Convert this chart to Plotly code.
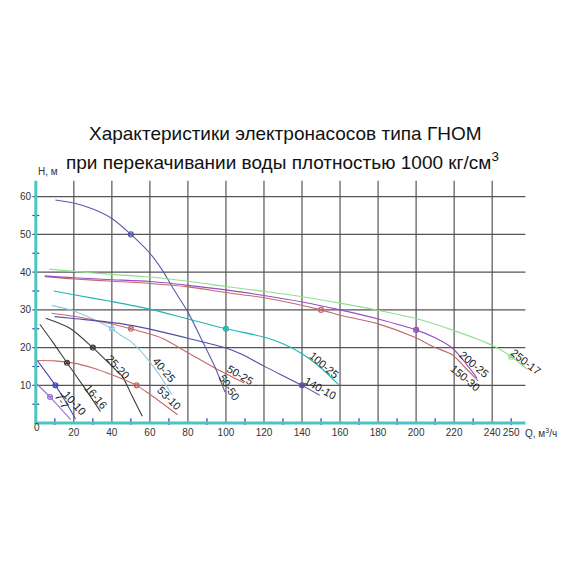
import plotly.graph_objects as go

# pump curves Q (m3/h) -> H (m)
pumps = ["7-7", "10-10", "16-16", "25-20", "40-25", "53-10", "50-25",
         "50-50", "100-25", "140-10", "150-30", "200-25", "250-17"]

q_7_7 = [0.7, 7.5, 18.4]
h_7_7 = [10.3, 6.9, 0.9]
q_10_10 = [0.4, 10.3, 15.1, 20.9]
h_10_10 = [16.8, 10.0, 6.2, 1.1]
q_16_16 = [2.1, 9, 16.4, 25, 34.0]
h_16_16 = [26.2, 21.4, 16.0, 9.8, 3.1]
q_25_20 = [5.2, 17.7, 30.0, 42, 45.5, 50.7, 56]
h_25_20 = [27.8, 25.2, 20.0, 14.1, 12.4, 7.1, 1.8]
q_40_25 = [8.4, 20, 30, 40, 45.5, 50, 56, 64, 71.6]
h_40_25 = [31.2, 29.7, 27.6, 25.0, 23.0, 21.6, 18.6, 13.5, 7.5]
q_53_10 = [0.4, 10, 20, 30, 40, 53, 60.3, 74.6]
h_53_10 = [16.6, 16.5, 15.9, 14.6, 12.8, 10.0, 7.5, 2.2]
q_50_25 = [8.2, 20, 35, 50, 66.4, 80.2, 94.1, 109.7]
h_50_25 = [29.1, 28.3, 26.8, 25.0, 22.5, 18.6, 14.6, 10.6]
q_50_50 = [10.3, 20, 30, 40, 50, 60, 67.2, 71.6, 80, 88.1, 94.1, 99.5]
h_50_50 = [59.1, 58.3, 56.7, 54.2, 50.0, 45.0, 40.0, 36.2, 29.4, 21.2, 15.0, 8.2]
q_100_25 = [9.4, 20, 40, 60, 80, 100, 120, 130, 140, 150, 159.2]
h_100_25 = [35.0, 34.0, 32.2, 30.2, 27.6, 25.0, 22.8, 21.0, 18.4, 14.6, 10.2]
q_140_10 = [9.9, 20, 45.5, 60, 80, 100, 108, 120, 140, 149.3]
h_140_10 = [28.2, 27.7, 26.3, 24.9, 22.5, 19.9, 18.3, 15.1, 10.0, 7.4]
q_150_30 = [4.7, 20, 40, 60, 80, 100, 120, 150, 160, 180, 199, 208.7, 219, 226, 232.7]
h_150_30 = [38.8, 38.2, 37.6, 37.0, 36.1, 34.6, 33.2, 30.0, 28.6, 26.3, 22.8, 20.3, 18.1, 14.6, 11.1]
q_200_25 = [4.7, 20, 40, 60, 80, 100, 120, 140, 160, 180, 200, 210, 219, 226, 232]
h_200_25 = [39.0, 38.5, 38.0, 37.5, 36.5, 35.3, 33.8, 32.1, 30.0, 27.6, 24.7, 22.6, 19.9, 15.9, 12.0]
q_250_17 = [7, 20, 40, 60, 80, 100, 120, 140, 160, 180, 200, 220, 240, 250, 258.7]
h_250_17 = [40.8, 40.2, 39.4, 38.7, 37.6, 36.2, 34.9, 33.5, 31.8, 29.9, 27.7, 24.5, 20.6, 17.6, 14.2]

# nominal points marked on each curve
mark_q = [7.5, 10.3, 16.4, 30.0, 40, 53, 50, 50, 100, 140, 150, 200, 250]
mark_h = [6.9, 10.0, 16.0, 20.0, 25, 10, 25, 50, 25, 10, 30, 24.7, 17.6]

curves_q = [q_7_7, q_10_10, q_16_16, q_25_20, q_40_25, q_53_10, q_50_25,
            q_50_50, q_100_25, q_140_10, q_150_30, q_200_25, q_250_17]
curves_h = [h_7_7, h_10_10, h_16_16, h_25_20, h_40_25, h_53_10, h_50_25,
            h_50_50, h_100_25, h_140_10, h_150_30, h_200_25, h_250_17]

x_ticks = [20, 40, 60, 80, 100, 120, 140, 160, 180, 200, 220, 240, 250]
x_grid = [20, 40, 60, 80, 100, 120, 140, 160, 180, 200, 220, 240]
x_minor = [10, 30, 50, 70, 90, 110, 130, 150, 170, 190, 210, 230, 250]
y_ticks = [10, 20, 30, 40, 50, 60]
y_minor = [5, 15, 25, 35, 45, 55]

colors = ["#9b6fd0", "#4a4ab8", "#3c3c3c", "#3c3c3c", "#8ccbe0", "#c46a6a", "#c46a6a",
          "#5a5ab0", "#1fb5b5", "#4f4fa8", "#c06a6a", "#9a4cc0", "#8ee08e"]

# label placement (center in data units, angle)
label_pos = {
    "7-7": (13.8, 5.9, 58), "10-10": (20.3, 5.2, 48), "16-16": (31.9, 7.0, 50),
    "25-20": (43.3, 14.9, 47), "40-25": (67.6, 14.1, 50), "53-10": (70.0, 6.6, 45),
    "50-25": (107.5, 12.7, 31), "50-50": (101.5, 9.5, 57), "100-25": (151.6, 15.4, 40),
    "140-10": (149.5, 9.2, 29), "200-25": (230.3, 15.6, 40), "150-30": (225.9, 11.9, 40),
    "250-17": (258.0, 16.3, 38),
}

X_END = 257.5
Y_TOP = 64.2
GRID = "#555555"
AXIS = "#4cc4c4"
TICK = "#3a3aa0"
FONT = "Liberation Sans, Arial, sans-serif"

fig = go.Figure()
for name, q, h, c in zip(pumps, curves_q, curves_h, colors):
    fig.add_trace(go.Scatter(x=q, y=h, mode="lines", name=name,
                             line=dict(color=c, width=1.1, shape="spline", smoothing=0.8),
                             hoverinfo="skip"))
for name, q, h, c in zip(pumps, mark_q, mark_h, colors):
    fig.add_trace(go.Scatter(x=[q], y=[h], mode="markers", name=name,
                             marker=dict(symbol="circle-x-open", size=5, color=c,
                                         line=dict(width=1.1, color=c))))

shapes = []
for v in y_ticks:
    shapes.append(dict(type="line", x0=-1.8, x1=X_END, y0=v, y1=v,
                       line=dict(color=GRID, width=1.2), layer="below"))
for v in x_grid:
    shapes.append(dict(type="line", x0=v, x1=v, y0=0, y1=Y_TOP,
                       line=dict(color=GRID, width=1.2), layer="below"))
for v in x_minor:
    shapes.append(dict(type="line", x0=v, x1=v, y0=-1.3, y1=1.3,
                       line=dict(color=TICK, width=1.2)))
for v in y_minor:
    shapes.append(dict(type="line", x0=-1.8, x1=1.8, y0=v, y1=v,
                       line=dict(color=TICK, width=1.2)))
shapes.append(dict(type="line", x0=0, x1=0, y0=-0.3, y1=Y_TOP,
                   line=dict(color=AXIS, width=3)))
shapes.append(dict(type="line", x0=0, x1=X_END, y0=0, y1=0,
                   line=dict(color=AXIS, width=3)))

annotations = []
for name in pumps:
    lx, ly, ang = label_pos[name]
    annotations.append(dict(x=lx, y=ly, text=name, showarrow=False, textangle=ang,
                            font=dict(size=11, color="#222222", family=FONT)))
annotations += [
    dict(x=0.505, y=1.163, xref="paper", yref="paper", yanchor="middle", showarrow=False,
         text="Характеристики электронасосов типа ГНОМ",
         font=dict(size=19, color="#111111", family=FONT)),
    dict(x=0.499, y=1.052, xref="paper", yref="paper", yanchor="middle", showarrow=False,
         text="при перекачивании воды плотностью 1000 кг/см<sup>3</sup>",
         font=dict(size=19, color="#111111", family=FONT)),
    dict(x=0.0079, y=1.008, xref="paper", yref="paper", yanchor="middle", showarrow=False,
         text="H, м", font=dict(size=10, color="#333333", family=FONT)),
    dict(x=0.978, y=-0.032, xref="paper", yref="paper", xanchor="left", yanchor="middle",
         showarrow=False, text="Q, м<sup>3</sup>/ч",
         font=dict(size=10, color="#333333", family=FONT)),
    dict(x=0.0, y=-0.008, xref="paper", yref="paper", yanchor="middle", showarrow=False,
         text="0", font=dict(size=10, color="#333333", family=FONT)),
]

fig.update_layout(
    width=570, height=570,
    margin=dict(l=19, r=44, t=166, b=153),
    paper_bgcolor="white", plot_bgcolor="white",
    showlegend=False,
    shapes=shapes, annotations=annotations,
    xaxis=dict(range=[-2, 262], showgrid=False, zeroline=False, showline=False,
               tickvals=x_ticks, ticks="", tickangle=0,
               tickfont=dict(size=10, color="#333333", family=FONT)),
    yaxis=dict(range=[-0.5, 66], showgrid=False, zeroline=False, showline=False,
               tickvals=y_ticks, ticks="", tickangle=0,
               tickfont=dict(size=10, color="#333333", family=FONT)),
)

fig.write_html("out.html")
